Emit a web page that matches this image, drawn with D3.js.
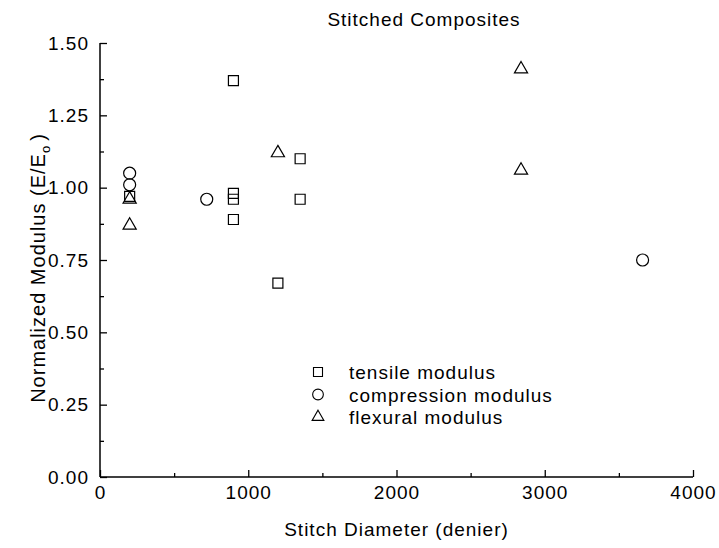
<!DOCTYPE html>
<html><head><meta charset="utf-8">
<script src="https://cdn.jsdelivr.net/npm/d3@7"></script>
<style>
body{margin:0;background:#fff;}
text{font-family:"Liberation Sans",Arial,sans-serif;fill:#000;}
</style></head>
<body><svg id="c" width="719" height="548"></svg>
<script>
const tensileX = [200, 900, 900, 900, 900, 1200, 1350, 1350];
const tensileY = [0.97, 1.37, 0.98, 0.96, 0.89, 0.67, 1.10, 0.96];
const compX = [200, 200, 720, 3660];
const compY = [1.05, 1.01, 0.96, 0.75];
const flexX = [200, 200, 1200, 2840, 2840];
const flexY = [0.96, 0.87, 1.12, 1.41, 1.06];
const xTicks = [0, 1000, 2000, 3000, 4000];
const yTicks = [0, 0.25, 0.5, 0.75, 1.0, 1.25, 1.5];
const legendLabels = ["tensile modulus", "compression modulus", "flexural modulus"];

const svg = d3.select("#c");
const L = 100, R = 693, T = 43, B = 477;
const x = d3.scaleLinear().domain([0, 4000]).range([L, R]);
const y = d3.scaleLinear().domain([0, 1.5]).range([B, T]);
const FS = 19, LS = 1;

svg.append("g").attr("transform", `translate(0,${B})`)
  .call(d3.axisBottom(x).tickValues(xTicks).tickSize(-7).tickPadding(9).tickFormat(d3.format("d")));
svg.append("g").attr("transform", `translate(0,${B})`)
  .call(d3.axisBottom(x).tickValues([500,1500,2500,3500]).tickSize(-4).tickFormat(""));
svg.append("g").attr("transform", `translate(${L},0)`)
  .call(d3.axisLeft(y).tickValues(yTicks).tickSize(-7).tickPadding(11).tickFormat(d3.format(".2f")));
svg.append("g").attr("transform", `translate(${L},0)`)
  .call(d3.axisLeft(y).tickValues([0.125,0.375,0.625,0.875,1.125,1.375]).tickSize(-4).tickFormat(""));
svg.selectAll(".domain").remove();
svg.append("line").attr("x1",L).attr("x2",R).attr("y1",B).attr("y2",B).attr("stroke","#000").attr("stroke-width",1.5);
svg.append("line").attr("x1",L).attr("x2",L).attr("y1",T).attr("y2",B).attr("stroke","#000").attr("stroke-width",1.5);
svg.selectAll(".tick line").attr("stroke","#000").attr("stroke-width",1.3);
svg.selectAll(".tick text").attr("font-size",FS).attr("letter-spacing",LS)
  .style("font-family",'"Liberation Sans",Arial,sans-serif');

svg.append("text").attr("x",424).attr("y",26).attr("text-anchor","middle")
  .attr("font-size",FS).attr("letter-spacing",LS).text("Stitched Composites");
svg.append("text").attr("x",(L+R)/2).attr("y",536).attr("text-anchor","middle")
  .attr("font-size",FS).attr("letter-spacing",LS).text("Stitch Diameter (denier)");
const yl = svg.append("text").attr("transform",`translate(45,268) rotate(-90)`)
  .attr("text-anchor","middle").attr("font-size",20).attr("letter-spacing",LS);
yl.append("tspan").text("Normalized Modulus (E/E");
yl.append("tspan").attr("font-size",13).attr("dy",5).text("o");
yl.append("tspan").attr("dy",-5).attr("dx",4).text(")");

const sq = d3.symbol().type(d3.symbolSquare).size(100);
const ci = d3.symbol().type(d3.symbolCircle).size(113);
const tri = d3.symbol().type(d3.symbolTriangle).size(75);
function draw(xs, ys, gen){
  svg.append("g").selectAll("path").data(xs.map((d,i)=>[d, ys[i]])).join("path")
    .attr("d", gen).attr("transform", d=>`translate(${x(d[0])},${y(d[1])})`)
    .attr("fill","none").attr("stroke","#000").attr("stroke-width",1.2);
}
draw(tensileX, tensileY, sq);
draw(compX, compY, ci);
draw(flexX, flexY, tri);

const gens = [d3.symbol().type(d3.symbolSquare).size(81), d3.symbol().type(d3.symbolCircle).size(90), d3.symbol().type(d3.symbolTriangle).size(60)];
const lg = svg.append("g");
legendLabels.forEach((t,i)=>{
  const yy = 372 + i*22.5;
  lg.append("path").attr("d", gens[i]()).attr("transform",`translate(318,${yy})`)
    .attr("fill","none").attr("stroke","#000").attr("stroke-width",1.1);
  lg.append("text").attr("x",349).attr("y",yy+7).attr("font-size",FS).attr("letter-spacing",LS).text(t);
});
</script></body></html>
